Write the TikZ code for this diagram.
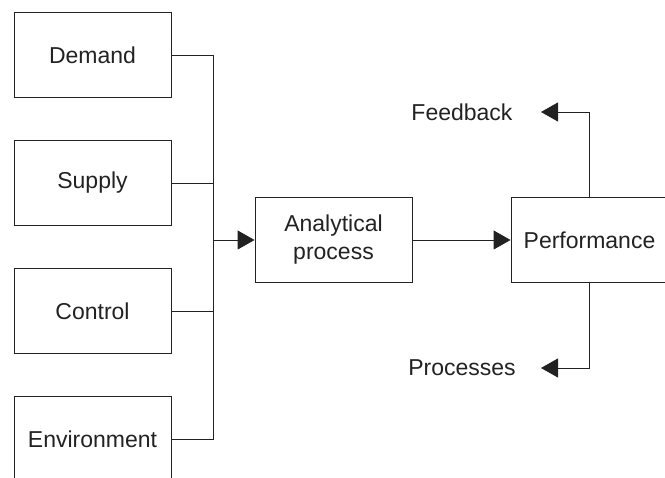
\documentclass[tikz,border=0pt]{standalone}
\usepackage{fontspec}
\setmainfont{Liberation Sans}
\usetikzlibrary{arrows.meta}
\definecolor{ink}{HTML}{222222}
\tikzset{
  box/.style={draw=ink, line width=0.9pt, minimum width=157pt, minimum height=85pt, inner sep=0pt, align=center, text=ink, font=\fontsize{23}{28}\selectfont},
  lbl/.style={inner sep=0pt, text=ink, font=\fontsize{23}{28}\selectfont},
  wire/.style={draw=ink, line width=0.9pt},
  arrow/.style={wire, -{Triangle[length=17pt,width=19pt]}}
}
\begin{document}
\begin{tikzpicture}[x=1pt,y=-1pt]
\useasboundingbox (0,0) rectangle (665,478);
\clip (0,0) rectangle (665,478);
\node[box] (demand) at (92.5,55) {Demand};
\node[box] (supply) at (92.5,183) {Supply};
\node[box] (control) at (92.5,311) {Control};
\node[box] (env) at (92.5,439) {Environment};
\node[box] (anal) at (333.5,240) {Analytical\\process};
\node[box] (perf) at (589.5,240) {Performance};
\node[lbl] (fb) at (462,112) {Feedback};
\node[lbl] (proc) at (462,368) {Processes};
\coordinate (bus) at (213,240);
\coordinate (fbtip) at (541,112);
\coordinate (proctip) at (541,368);
\draw[wire] (demand.east) -| (bus);
\draw[wire] (supply.east) -| (bus);
\draw[wire] (control.east) -| (bus);
\draw[wire] (env.east) -| (bus);
\draw[arrow] (bus) -- (anal.west);
\draw[arrow] (anal.east) -- (perf.west);
\draw[arrow] (perf.north) |- (fbtip);
\draw[arrow] (perf.south) |- (proctip);
\end{tikzpicture}
\end{document}
